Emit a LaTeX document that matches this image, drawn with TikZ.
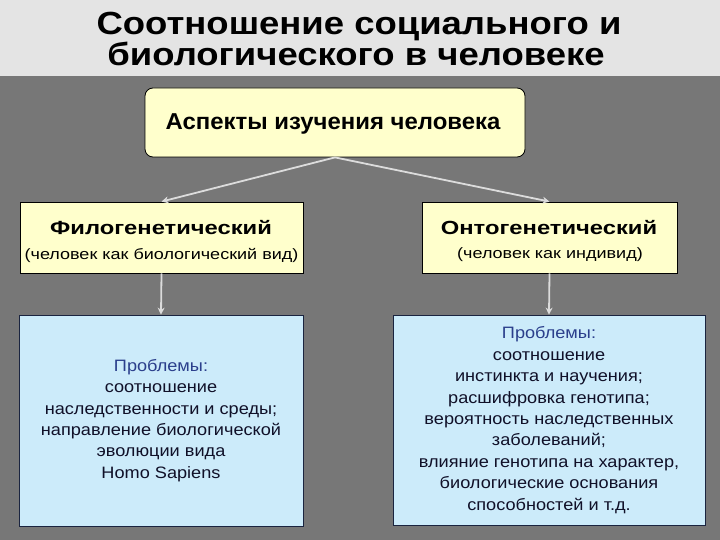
\documentclass[tikz,border=0pt]{standalone}
\usepackage{fontspec}
\setmainfont{Liberation Sans}
\newfontfamily\ttlfam[FakeStretch=1.14]{Liberation Sans}
\newfontfamily\aspfam[FakeStretch=1.04]{Liberation Sans}
\newfontfamily\headfam[FakeStretch=1.25]{Liberation Sans}
\newfontfamily\subfam[FakeStretch=1.2]{Liberation Sans}
\newfontfamily\bodyfam[FakeStretch=1.1]{Liberation Sans}
\usetikzlibrary{arrows.meta}
\definecolor{bgdark}{HTML}{777777}
\definecolor{bglight}{HTML}{E4E4E4}
\definecolor{yel}{HTML}{FFFFCC}
\definecolor{blu}{HTML}{CCEBFA}
\definecolor{boxline}{HTML}{1A2440}
\definecolor{probl}{HTML}{2B3F8C}
\definecolor{txt}{HTML}{101028}
\definecolor{arr}{HTML}{DCDCDC}
\begin{document}
\begin{tikzpicture}[x=1pt,y=-1pt,
  ybox/.style={draw=black, fill=yel, line width=0.8pt, inner sep=0pt},
  bbox/.style={draw=boxline, fill=blu, line width=0.8pt, inner sep=0pt, align=center, text=txt,
     font=\bodyfam\fontsize{16.5}{21.4}\selectfont},
  conn/.style={draw=arr, line width=1.8pt, -{Stealth[length=7pt,width=7pt]}},
  ttl/.style={anchor=base, inner sep=0pt, font=\ttlfam\bfseries\fontsize{32}{38}\selectfont},
  head/.style={inner sep=0pt, font=\headfam\bfseries\fontsize{19}{22}\selectfont},
  sub/.style={inner sep=0pt, font=\subfam\fontsize{15}{18}\selectfont}]
\fill[bglight] (0,0) rectangle (720,76);
\fill[bgdark] (0,76) rectangle (720,540);
\useasboundingbox (0,0) rectangle (720,540);
\node[ttl] (title1) at (359,35) {Соотношение социального и};
\node[ttl] (title2) at (356,66) {биологического в человеке};
\node[ybox, rounded corners=8pt, minimum width=380pt, minimum height=69pt] (top) at (335,122.5) {};
\node[inner sep=0pt, font=\aspfam\bfseries\fontsize{23}{26}\selectfont] (topt) at (333,124) {Аспекты изучения человека};
\node[ybox, minimum width=283pt, minimum height=71pt] (fil) at (161.5,237.5) {};
\node[ybox, minimum width=255pt, minimum height=71pt] (ont) at (549.5,237.5) {};
\node[head] (filh) at (161,228) {Филогенетический};
\node[sub] (fils) at (161.5,255) {(человек как биологический вид)};
\node[head] (onth) at (549,228) {Онтогенетический};
\node[sub] (onts) at (550,255) {(человек как индивид)};
\node[bbox, minimum width=284pt, minimum height=211pt] (pfil) at (161,420.5)
  {\textcolor{probl}{Проблемы:}\\соотношение\\наследственности и среды;\\направление биологической\\эволюции вида\\Homo Sapiens};
\node[bbox, minimum width=312pt, minimum height=210pt] (pont) at (549,420)
  {\textcolor{probl}{Проблемы:}\\соотношение\\инстинкта и научения;\\расшифровка генотипа;\\вероятность наследственных\\заболеваний;\\влияние генотипа на характер,\\биологические основания\\способностей и т.д.};
\draw[conn] (top.south) -- (fil.north);
\draw[conn] (top.south) -- (ont.north);
\draw[conn] (fil.south) -- (pfil.north);
\draw[conn] (ont.south) -- (pont.north);
\end{tikzpicture}
\end{document}
